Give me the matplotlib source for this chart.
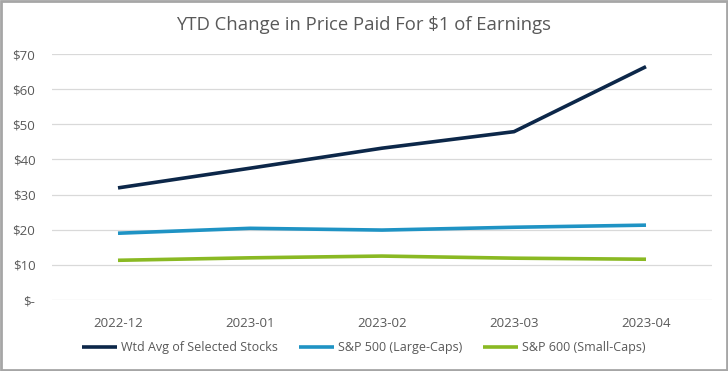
import matplotlib.pyplot as plt
from matplotlib.patches import Rectangle

months = ["2022-12", "2023-01", "2023-02", "2023-03", "2023-04"]
wtd_avg = [31.9, 37.5, 43.2, 47.9, 66.4]
sp500 = [19.0, 20.4, 19.9, 20.7, 21.3]
sp600 = [11.3, 12.0, 12.5, 11.9, 11.6]

series_names = ["Wtd Avg of Selected Stocks", "S&P 500 (Large-Caps)", "S&P 600 (Small-Caps)"]
colors = ["#0C2749", "#1F93C4", "#8AB923"]

plt.rcParams['font.family'] = ['Open Sans', 'DejaVu Sans']

fig = plt.figure(figsize=(7.28, 3.71), dpi=100)
ax = fig.add_axes([52 / 728, 1 - 300 / 371, 660 / 728, (300 - 54) / 371])

x = list(range(len(months)))
for vals, name, c in zip([wtd_avg, sp500, sp600], series_names, colors):
    ax.plot(x, vals, color=c, lw=2.6, label=name, solid_capstyle='butt')

ax.set_xlim(-0.5, len(months) - 0.5)
ax.set_ylim(0, 70)
ax.set_yticks(range(0, 80, 10))
ax.set_yticklabels(["$-"] + [f"${v}" for v in range(10, 80, 10)])
ax.set_xticks(x)
ax.set_xticklabels(months)
ax.grid(axis='y', color='#D9D9D9', lw=0.9)
ax.set_axisbelow(True)
for s in ax.spines.values():
    s.set_visible(False)
ax.tick_params(length=0, labelsize=9.5, colors='#595959')
ax.tick_params(axis='x', pad=12)
ax.tick_params(axis='y', pad=12)

fig.text(0.5, 1 - 25 / 371, "YTD Change in Price Paid For $1 of Earnings",
         ha='center', va='center', fontsize=13.3, color='#595959')

leg = fig.legend(*ax.get_legend_handles_labels(), loc='center', ncol=3,
                 bbox_to_anchor=(0.5, 1 - 348 / 371), frameon=False,
                 fontsize=9, handlelength=2.8, handletextpad=0.3, columnspacing=1.7)
for t in leg.get_texts():
    t.set_color('#595959')

fig.patches.append(Rectangle((0.0015, 0.003), 0.997, 0.994, transform=fig.transFigure,
                             fill=False, edgecolor='#A6A6A6', lw=2))

fig.savefig("out.png", dpi=100)
